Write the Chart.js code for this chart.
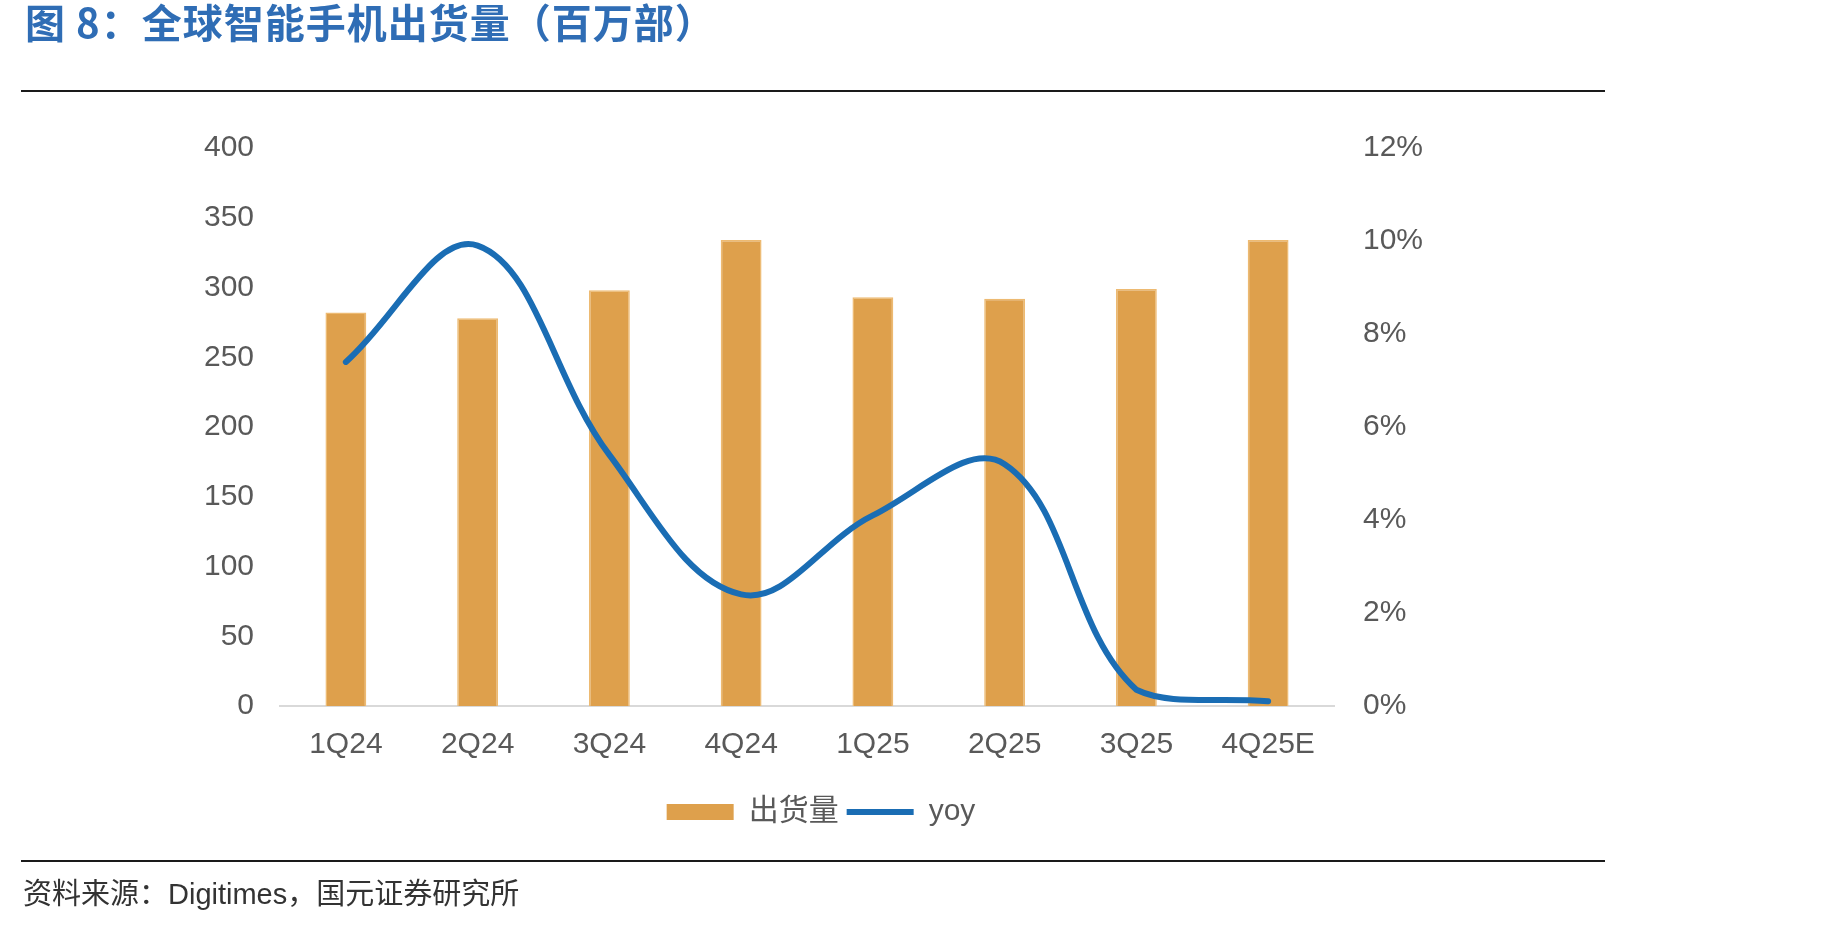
<!DOCTYPE html>
<html>
<head>
<meta charset="utf-8">
<script src="https://cdn.jsdelivr.net/npm/chart.js@4.4.1/dist/chart.umd.min.js"></script>
<style>
    body { margin: 0; background: #fff; }
    #wrap { position: relative; width: 1830px; height: 925px; overflow: hidden; }
    #c { position: absolute; left: 0; top: 0; }
    .title { position: absolute; left: 25px; top: 0px; font: bold 40px "Noto Sans CJK SC", sans-serif; line-height: 42px; color: #2F6DB5; letter-spacing: 1px; }
    .rule { position: absolute; left: 21px; width: 1584px; height: 2px; background: #1a1a1a; }
    .source { position: absolute; left: 23px; top: 877px; font: 29px "Liberation Sans", "Noto Sans CJK SC", sans-serif; line-height: 35px; color: #333; }
</style>
</head>
<body>
<div id="wrap">
    <canvas id="c" width="1830" height="925"></canvas>
    <div class="title">图 8：全球智能手机出货量（百万部）</div>
    <div class="rule" style="top: 90px;"></div>
    <div class="rule" style="top: 860px;"></div>
    <div class="source">资料来源：Digitimes，国元证券研究所</div>
</div>
<script>
var quarters = ["1Q24", "2Q24", "3Q24", "4Q24", "1Q25", "2Q25", "3Q25", "4Q25E"];
var shipments = [282, 278, 298, 334, 293, 292, 299, 334];   // 出货量, 百万部
var yoy = [7.4, 9.9, 5.4, 2.4, 4.1, 5.2, 0.35, 0.1];         // %
var leftTicks = [0, 400, 50];
var rightTicks = [0, 12, 2];

var tickFont = { family: '"Liberation Sans", Arial, "Noto Sans CJK SC"', size: 30 };
var tickColor = '#595959';

var ctx = document.getElementById("c").getContext('2d');
var chart = new Chart(ctx, {
    type: 'bar',
    data: {
        labels: quarters,
        datasets: [{
            label: '出货量',
            data: shipments,
            backgroundColor: '#DEA04C',
            borderColor: '#EDBA72',
            borderWidth: 1.5,
            barPercentage: 0.31,
            categoryPercentage: 1,
            yAxisID: 'y',
            order: 2
        }, {
            type: 'line',
            label: 'yoy',
            data: yoy,
            borderColor: '#1A6DB4',
            backgroundColor: '#1A6DB4',
            borderWidth: 6,
            borderCapStyle: 'round',
            pointRadius: 0,
            tension: 0.38,
            yAxisID: 'y1',
            order: 1
        }]
    },
    options: {
        responsive: false,
        animation: false,
        layout: {
            padding: { left: 100, right: 288, top: 148, bottom: 88 }
        },
        scales: {
            x: {
                grid: { display: false, drawTicks: false },
                border: { display: true, color: '#D9D9D9', width: 2 },
                ticks: { color: tickColor, font: tickFont, padding: 21, maxRotation: 0 },
                afterFit: function (s) { s.height = 83; }
            },
            y: {
                position: 'left',
                min: leftTicks[0],
                max: leftTicks[1],
                grid: { display: false, drawTicks: false },
                border: { display: false },
                ticks: { stepSize: leftTicks[2], color: tickColor, font: tickFont, padding: 26 },
                afterFit: function (s) { s.width = 180; }
            },
            y1: {
                position: 'right',
                min: rightTicks[0],
                max: rightTicks[1],
                grid: { display: false, drawTicks: false },
                border: { display: false },
                ticks: {
                    stepSize: rightTicks[2], color: tickColor, font: tickFont, padding: 29,
                    callback: function (v) { return v + '%'; }
                },
                afterFit: function (s) { s.width = 208; }
            }
        },
        plugins: {
            tooltip: { enabled: false },
            legend: {
                position: 'bottom',
                labels: {
                    usePointStyle: true,
                    pointStyleWidth: 67,
                    boxHeight: 16,
                    padding: 8,
                    color: tickColor,
                    font: tickFont,
                    generateLabels: function (chart) {
                        return chart.data.datasets.map(function (ds, i) {
                            var isLine = ds.type === 'line';
                            return {
                                text: ds.label,
                                fillStyle: ds.backgroundColor,
                                strokeStyle: isLine ? ds.borderColor : ds.backgroundColor,
                                lineWidth: isLine ? 6 : 0,
                                pointStyle: isLine ? 'line' : 'rect',
                                fontColor: tickColor,
                                datasetIndex: i,
                                hidden: false
                            };
                        });
                    }
                }
            }
        }
    }
});
</script>
</body>
</html>
